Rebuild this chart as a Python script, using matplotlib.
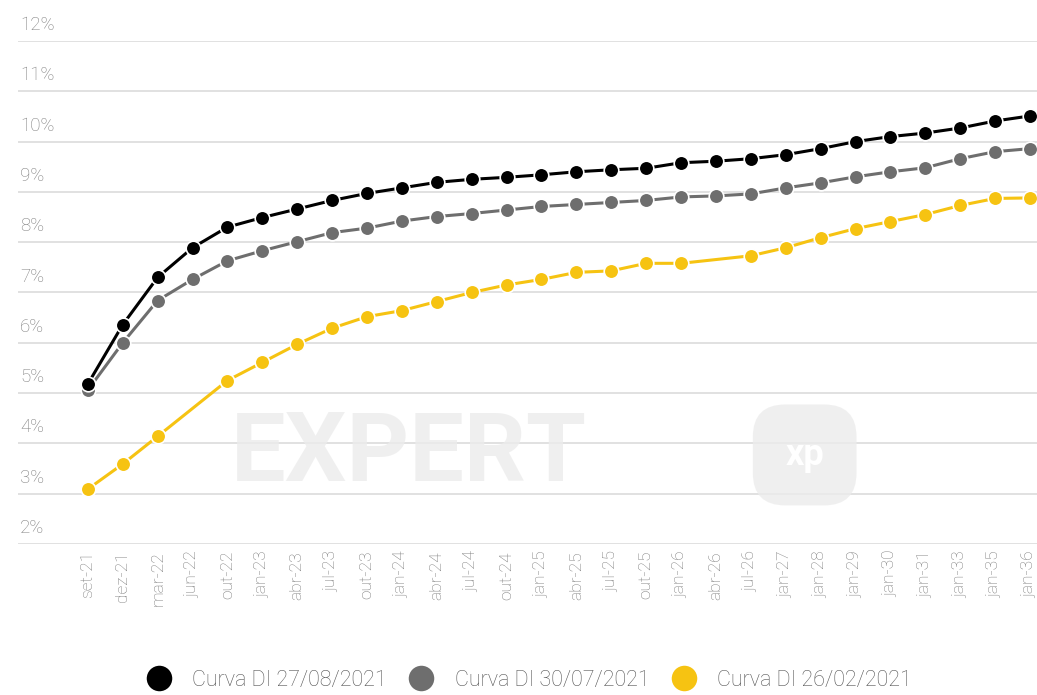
import numpy as np
import matplotlib
matplotlib.use("Agg")
import matplotlib.pyplot as plt
from matplotlib import transforms

plt.rcParams['font.family'] = ['Roboto', 'DejaVu Sans']

# vencimentos da curva
vencimentos = ['set-21', 'dez-21', 'mar-22', 'jun-22', 'out-22', 'jan-23', 'abr-23',
               'jul-23', 'out-23', 'jan-24', 'abr-24', 'jul-24', 'out-24', 'jan-25',
               'abr-25', 'jul-25', 'out-25', 'jan-26', 'abr-26', 'jul-26', 'jan-27',
               'jan-28', 'jan-29', 'jan-30', 'jan-31', 'jan-33', 'jan-35', 'jan-36']

# taxas (%)
curva_2708 = [5.18, 6.36, 7.30, 7.89, 8.30, 8.49, 8.66, 8.83, 8.97, 9.08, 9.19, 9.25,
              9.29, 9.34, 9.40, 9.44, 9.47, 9.58, 9.61, 9.66, 9.74, 9.86, 10.00, 10.10,
              10.17, 10.27, 10.41, 10.51]
curva_3007 = [5.06, 6.00, 6.84, 7.26, 7.63, 7.83, 8.01, 8.19, 8.28, 8.42, 8.51, 8.57,
              8.64, 8.71, 8.75, 8.79, 8.83, 8.90, 8.92, 8.96, 9.08, 9.18, 9.30, 9.40,
              9.48, 9.66, 9.80, 9.86]
curva_2602 = [3.09, 3.59, 4.14, np.nan, 5.25, 5.61, 5.97, 6.29, 6.52, 6.64, 6.82, 7.00,
              7.15, 7.26, 7.40, 7.43, 7.58, 7.58, np.nan, 7.73, 7.89, 8.09, 8.27, 8.41,
              8.55, 8.73, 8.87, 8.88]

series = [
    ('Curva DI 27/08/2021', curva_2708, '#000000', 3),
    ('Curva DI 30/07/2021', curva_3007, '#6e6e6e', 2),
    ('Curva DI 26/02/2021', curva_2602, '#f6c312', 1),
]
y_ticks = [2, 3, 4, 5, 6, 7, 8, 9, 10, 11, 12]

fig = plt.figure(figsize=(10.37, 6.95), dpi=100)
ax = fig.add_axes([0.0174, 0.2173, 0.9826, 0.7237])

x = np.arange(len(vencimentos))
for nome, vals, cor, z in series:
    v = np.array(vals, dtype=float)
    ok = ~np.isnan(v)
    ax.plot(x[ok], v[ok], color=cor, lw=2.2, marker='o', markersize=10.5,
            markeredgecolor='white', markeredgewidth=1.2, zorder=z + 2, label=nome)

ax.set_xlim(-2.0, 27.2)
ax.set_ylim(2, 12)

# grade horizontal
for t in y_ticks:
    ax.axhline(t, color='#dcdcdc', lw=1.2, zorder=0)

# rotulos do eixo y acima das linhas
off = transforms.offset_copy(ax.get_yaxis_transform(), fig=fig, x=0, y=5, units='points')
for t in y_ticks:
    ax.text(0.002, t, f'{t}%', transform=off, ha='left', va='bottom',
            fontsize=13.5, color='#7e7e7e', fontweight='light')

ax.set_yticks([])
ax.set_xticks(x)
ax.set_xticklabels(vencimentos, rotation=90, fontsize=12.5, color='#7a7a7a', fontweight='light')
ax.tick_params(axis='x', length=0, pad=5)
for s in ax.spines.values():
    s.set_visible(False)

# marca d'agua
ax.text(0.384, 0.177, 'EXPERT', transform=ax.transAxes, ha='center', va='center',
        fontsize=70, fontweight='bold', color='#ececec', alpha=0.8, zorder=1)
ax.text(0.772, 0.177, 'xp', transform=ax.transAxes, ha='center', va='center',
        fontsize=26, fontweight='bold', color='white', zorder=1,
        bbox=dict(boxstyle='round,pad=0.9', fc='#ececec', ec='none', alpha=0.8))

handles, labels = ax.get_legend_handles_labels()
leg = fig.legend(handles, labels, loc='lower center', bbox_to_anchor=(0.511, -0.022), ncol=3,
                 frameon=False, fontsize=15.5, handlelength=1.0, handletextpad=1.05,
                 columnspacing=1.1, markerscale=1.75)
for h in leg.legend_handles:
    h.set_linestyle('none')
    h.set_markeredgewidth(0)
for t in leg.get_texts():
    t.set_color('#555555')
    t.set_fontweight('light')

fig.savefig('out.png', dpi=100)
